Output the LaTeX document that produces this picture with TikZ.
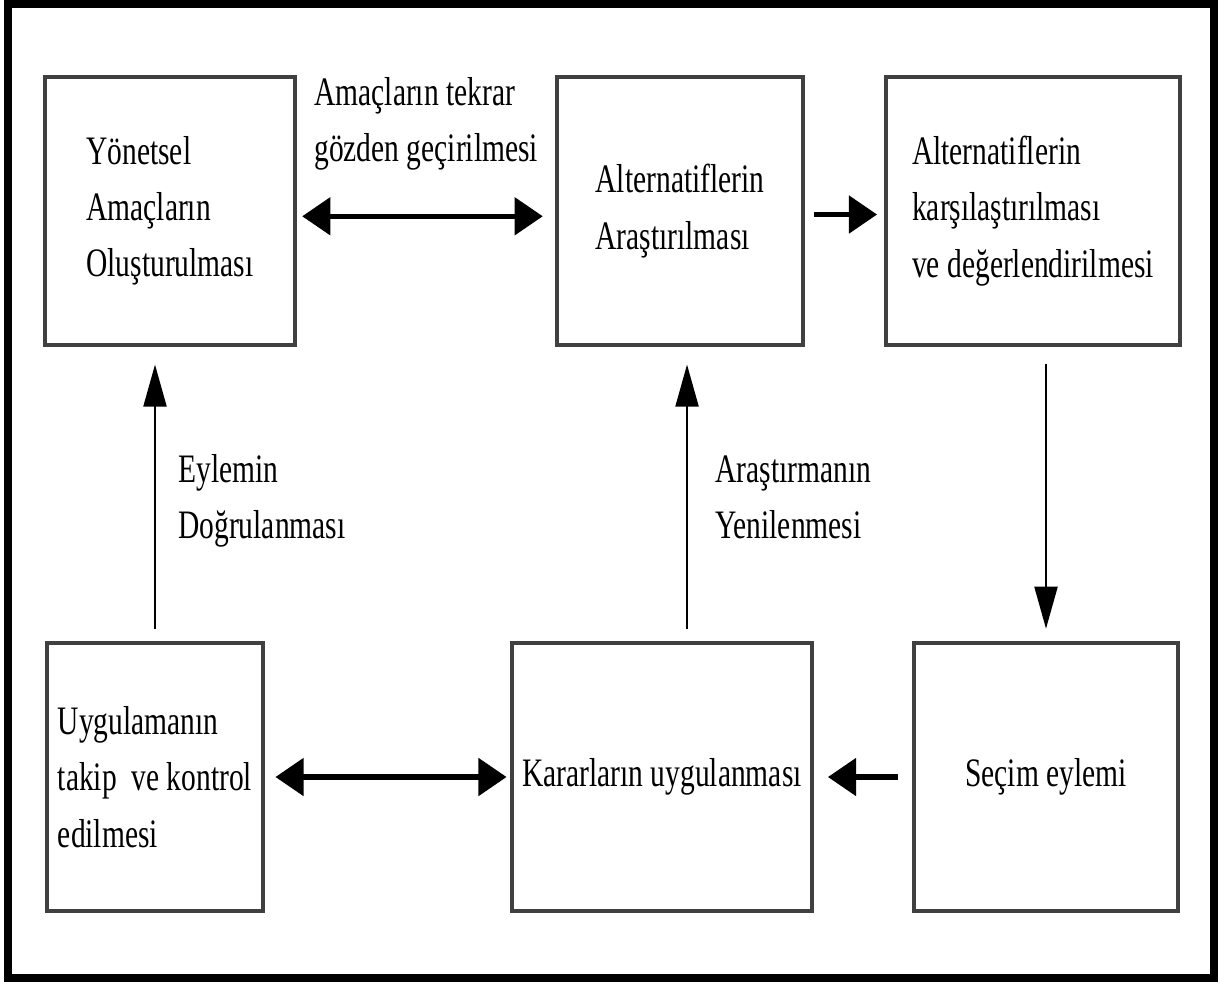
\documentclass[tikz,border=0pt]{standalone}
\usepackage{fontspec}
\setmainfont{Liberation Serif}[FakeStretch=0.73]
\usetikzlibrary{arrows.meta}
\begin{document}
\begin{tikzpicture}[x=0.02cm,y=-0.02cm,
    font=\fontsize{23}{32}\selectfont,
    box/.style={draw=black!75,line width=2.2pt,minimum height=5.36cm,align=left},
    fat/.style={line width=3pt},
    slim/.style={line width=1.6pt},
    bigtip/.tip={Triangle[length=16pt,width=21pt]},
    longtip/.tip={Triangle[length=24pt,width=13pt]},
    lbl/.style={inner sep=0pt,anchor=north west,align=left}]
  \useasboundingbox (0,0) rectangle (1227,985);
  \draw[line width=4.5pt] (8,4) rectangle (1214,978);
  % upper row
  \node[box,minimum width=5cm] (amac) at (170,211)
    {Yönetsel\\Amaçların\\Oluşturulması};
  \node[box,minimum width=4.92cm] (arastir) at (680,211)
    {Alternatiflerin\\Araştırılması};
  \node[box,minimum width=5.88cm] (karsi) at (1033,211)
    {Alternatiflerin\\karşılaştırılması\\ve değerlendirilmesi};
  % lower row
  \node[box,minimum width=4.32cm] (takip) at (155,777)
    {Uygulamanın\\takip~ ve kontrol\\edilmesi};
  \node[box,minimum width=6cm] (uygula) at (662,777)
    {Kararların uygulanması};
  \node[box,minimum width=5.28cm] (secim) at (1046,777)
    {Seçim eylemi};
  % labels
  \node[lbl] (tekrar) at (314,77) {Amaçların tekrar\\gözden geçirilmesi};
  \node[lbl] (dogru) at (178,454) {Eylemin\\Doğrulanması};
  \node[lbl] (yeni) at (715,455) {Araştırmanın\\Yenilenmesi};
  \coordinate (upB) at ([xshift=4pt]arastir.south);
  % connectors
  \draw[fat,bigtip-bigtip,shorten <=3pt,shorten >=7pt]
    ([yshift=-3pt]amac.east) -- ([yshift=-3pt]arastir.west);
  \draw[fat,-bigtip,shorten <=5pt,shorten >=4pt]
    ([yshift=-2pt]arastir.east) -- ([yshift=-2pt]karsi.west);
  \draw[slim,-longtip,shorten <=10pt,shorten >=7pt]
    (secim.north |- karsi.south) -- (secim.north);
  \draw[fat,-bigtip,shorten <=8pt,shorten >=8pt] (secim.west) -- (uygula.east);
  \draw[fat,bigtip-bigtip,shorten <=6pt,shorten >=2pt] (takip.east) -- (uygula.west);
  \draw[slim,-longtip,shorten <=7pt,shorten >=10pt]
    (takip.north) -- (takip.north |- amac.south);
  \draw[slim,-longtip,shorten <=7pt,shorten >=10pt]
    (upB |- uygula.north) -- (upB);
\end{tikzpicture}
\end{document}
